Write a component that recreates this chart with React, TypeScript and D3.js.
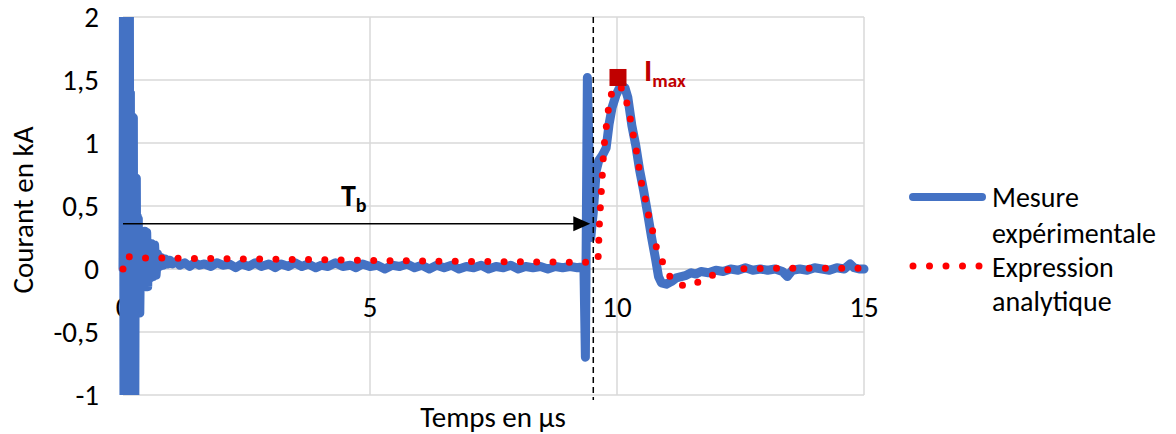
import React from "react";
import * as d3 from "d3";

// ---- data ----
const xTicks = [0, 5, 10, 15];
const yTicks = [-1, -0.5, 0, 0.5, 1, 1.5, 2];
const yTickLabels = ["-1", "-0,5", "0", "0,5", "1", "1,5", "2"];

// measured current (kA) vs time (µs)
const measT = [
  0, 0.01, 0.02, 0.03, 0.04, 0.05, 0.06, 0.07, 0.08, 0.09, 0.10, 0.11, 0.12, 0.13, 0.14,
  0.15, 0.16, 0.17, 0.18, 0.19, 0.20, 0.21, 0.22, 0.23, 0.24, 0.25, 0.26, 0.27, 0.28, 0.29,
  0.30, 0.31, 0.32, 0.33, 0.34, 0.36, 0.38, 0.40, 0.42, 0.44, 0.46, 0.48, 0.50, 0.52, 0.55,
  0.58, 0.61, 0.64, 0.67, 0.70, 0.74, 0.78, 0.82, 0.86, 0.90, 0.95, 1.00, 1.08, 1.15, 1.25,
  1.35, 1.45, 1.55, 1.65, 1.78, 1.90, 2.02, 2.15, 2.28, 2.40, 2.55, 2.68, 2.80, 2.95, 3.08,
  3.20, 3.35, 3.48, 3.62, 3.75, 3.90, 4.02, 4.15, 4.30, 4.45, 4.60, 4.72, 4.85, 5.00, 5.15,
  5.30, 5.45, 5.60, 5.75, 5.90, 6.05, 6.20, 6.35, 6.50, 6.65, 6.80, 6.95, 7.10, 7.25, 7.40,
  7.55, 7.70, 7.85, 8.00, 8.15, 8.30, 8.45, 8.60, 8.75, 8.90, 9.05, 9.20, 9.33, 9.36, 9.40,
  9.47, 9.52, 9.58, 9.63, 9.70, 9.78, 9.84, 9.90, 9.98, 10.04, 10.10, 10.16, 10.22, 10.30, 10.38, 10.46,
  10.54, 10.62, 10.70, 10.78, 10.84, 10.90, 11.00, 11.10, 11.20, 11.30, 11.40, 11.50, 11.60, 11.70, 11.85,
  12.00, 12.15, 12.30, 12.45, 12.60, 12.75, 12.90, 13.05, 13.20, 13.35, 13.45, 13.55, 13.70, 13.85, 14.00,
  14.15, 14.30, 14.45, 14.60, 14.72, 14.80, 14.90, 15.00,
];
const measI = [
  0, 2.4, -1.3, 2.3, -1.2, 2.2, -1.2, 2.1, -1.1, 2.05, -1.1, 2.0, -1.05, 2.05, -1.05,
  1.4, -1.05, 1.22, -1.05, 1.2, -1.05, 1.2, -1.05, 0.72, -1.02, 0.72, -0.36, 0.72, -0.35, 0.42,
  -0.35, 0.40, -0.35, 0.30, -0.35, 0.30, -0.15, 0.30, -0.14, 0.30, -0.14, 0.29, -0.14, 0.20, -0.07,
  0.20, -0.06, 0.19, -0.05, 0.12, 0.02, 0.09, 0.03, 0.08, 0.04, 0.07, 0.04, 0.06, 0.03, 0.05,
  0.02, 0.05, 0.03, 0.04, 0.02, 0.05, 0.03, 0.04, 0.01, 0.04, 0.02, 0.05, 0.02, 0.04, 0.01,
  0.04, 0.02, 0.05, 0.02, 0.04, 0.01, 0.03, 0.02, 0.05, 0.02, 0.03, 0.01, 0.04, 0.02, 0.03,
  0.00, 0.03, 0.02, 0.04, 0.01, 0.03, 0.00, 0.03, 0.01, 0.03, 0.00, 0.02, 0.01, 0.03, 0.00,
  0.02, 0.01, 0.03, 0.00, 0.02, 0.01, 0.02, 0.00, 0.02, 0.01, 0.02, 0.01, 0.02, -0.70, 1.52,
  0.25, 0.45, 0.78, 0.86, 0.90, 0.96, 1.15, 1.28, 1.38, 1.43, 1.45, 1.44, 1.36, 1.14, 0.98, 0.78,
  0.62, 0.44, 0.25, 0.08, -0.06, -0.11, -0.12, -0.10, -0.07, -0.06, -0.05, -0.03, -0.04, -0.02, -0.03,
  -0.01, -0.02, 0.00, -0.01, 0.01, -0.01, 0.00, -0.01, 0.00, -0.02, -0.06, -0.01, 0.00, -0.01, 0.01,
  0.00, -0.01, 0.01, 0.00, 0.04, 0.01, 0.00, 0.00,
];

// analytical expression
const anaT = [
  0, 0.06, 0.3, 1, 2, 3, 4, 5, 6, 7, 8, 9, 9.55, 9.60, 9.62, 9.63, 9.64, 9.66, 9.68, 9.70,
  9.72, 9.74, 9.78, 9.82, 9.86, 9.92, 9.98, 10.04, 10.12, 10.22, 10.28, 10.34, 10.40, 10.45,
  10.51, 10.59, 10.65, 10.73, 10.81, 10.93, 11.11, 11.38, 11.68, 11.98, 12.29, 13, 14, 15,
];
const anaI = [
  0, 0.10, 0.088, 0.086, 0.082, 0.078, 0.074, 0.068, 0.064, 0.060, 0.057, 0.054, 0.052, 0.07, 0.10, 0.21, 0.33, 0.47, 0.60, 0.73,
  0.87, 0.98, 1.12, 1.25, 1.36, 1.42, 1.45, 1.46, 1.42, 1.29, 1.17, 1.04, 0.92, 0.79,
  0.65, 0.53, 0.40, 0.29, 0.15, 0.05, -0.09, -0.14, -0.10, -0.04, 0.00, 0.005, 0.005, 0.005,
];

const imaxT = 10.02;
const imaxI = 1.52;
const tbT = 9.52;
const tbArrowI = 0.36;

const legendLabels = [["Mesure", "expérimentale"], ["Expression", "analytique"]];

const FONT = "Carlito, Calibri, 'Open Sans', sans-serif";

export default function App() {
  const W = 1176, H = 434;
  const x = d3.scaleLinear().domain([0, 15]).range([123, 864]);
  const y = d3.scaleLinear().domain([-1, 2]).range([395, 17]);

  const measData = measT.map((t, i) => [t, measI[i]] as [number, number]);
  const anaData = anaT.map((t, i) => [t, anaI[i]] as [number, number]);
  const line = d3.line<[number, number]>().x((d) => x(d[0])).y((d) => y(d[1]));

  const blue = "#4472C4";
  const red = "#FF0000";
  const grid = "#D9D9D9";
  const fs = 29;
  const lfs = 28;

  return (
    <svg width={W} height={H} style={{ position: "absolute", left: 0, top: 0, background: "#fff" }} fontFamily={FONT}>
      <defs>
        <clipPath id="plot">
          <rect x={x(0) - 10} y={y(2)} width={x(15) - x(0) + 20} height={y(-1) - y(2)} />
        </clipPath>
      </defs>
      {/* gridlines */}
      {yTicks.map((v) => (
        <line key={"gy" + v} x1={x(0)} x2={x(15)} y1={y(v)} y2={y(v)} stroke={v === 0 ? "#D0D0D0" : grid} strokeWidth={1.5} />
      ))}
      {xTicks.map((v) => (
        <line key={"gx" + v} x1={x(v)} x2={x(v)} y1={y(2)} y2={y(-1)} stroke={grid} strokeWidth={1.5} />
      ))}
      {/* y tick labels */}
      {yTicks.map((v, i) => (
        <text key={"ty" + v} x={99} y={y(v)} dy="0.35em" textAnchor="end" fontSize={fs} fill="#000">
          {yTickLabels[i]}
        </text>
      ))}
      {/* x tick labels */}
      {xTicks.map((v) => (
        <text key={"tx" + v} x={x(v)} y={317} textAnchor="middle" fontSize={fs} fill="#000">
          {v}
        </text>
      ))}
      {/* series */}
      <g clipPath="url(#plot)">
        <path d={line(measData) || ""} fill="none" stroke={blue} strokeWidth={9} strokeLinejoin="round" strokeLinecap="round" />
        <path d={line(anaData) || ""} fill="none" stroke={red} strokeWidth={7} strokeLinecap="round" strokeDasharray="0 16.3" />
      </g>
      {/* Imax marker */}
      <rect x={x(imaxT) - 8.5} y={y(imaxI) - 8.5} width={17} height={17} fill="#C00000" />
      <text x={644} y={81} fill="#C00000" fontWeight="bold" fontSize={31}>
        I
        <tspan fontSize={19} dy={6}>max</tspan>
      </text>
      {/* dashed Tb line */}
      <line x1={x(tbT)} x2={x(tbT)} y1={y(2)} y2={400} stroke="#000" strokeWidth={1.5} strokeDasharray="6 4" />
      {/* Tb arrow */}
      <line x1={x(0)} x2={x(tbT) - 10} y1={y(tbArrowI)} y2={y(tbArrowI)} stroke="#000" strokeWidth={1.5} />
      <path
        d={`M${x(tbT) - 3},${y(tbArrowI)} L${x(tbT) - 20},${y(tbArrowI) - 7.5} L${x(tbT) - 20},${y(tbArrowI) + 7.5} Z`}
        fill="#000"
      />
      <text x={341} y={206} fontWeight="bold" fontSize={30} fill="#000">
        T<tspan fontSize={20} dy={6}>b</tspan>
      </text>
      {/* axis titles */}
      <text x={493} y={427} textAnchor="middle" fontSize={fs} fill="#000">Temps en µs</text>
      <text transform={`translate(33,210) rotate(-90)`} textAnchor="middle" fontSize={fs} fill="#000">Courant en kA</text>
      {/* legend */}
      <line x1={913} x2={982} y1={197} y2={197} stroke={blue} strokeWidth={8} strokeLinecap="round" />
      <text x={992} y={197} dy="0.35em" fontSize={lfs} fill="#000">{legendLabels[0][0]}</text>
      <text x={992} y={233} dy="0.35em" fontSize={lfs} fill="#000">{legendLabels[0][1]}</text>
      <line x1={913} x2={980} y1={266} y2={266} stroke={red} strokeWidth={7} strokeLinecap="round" strokeDasharray="0 16.5" />
      <text x={992} y={267} dy="0.35em" fontSize={lfs} fill="#000">{legendLabels[1][0]}</text>
      <text x={992} y={301} dy="0.35em" fontSize={lfs} fill="#000">{legendLabels[1][1]}</text>
    </svg>
  );
}
